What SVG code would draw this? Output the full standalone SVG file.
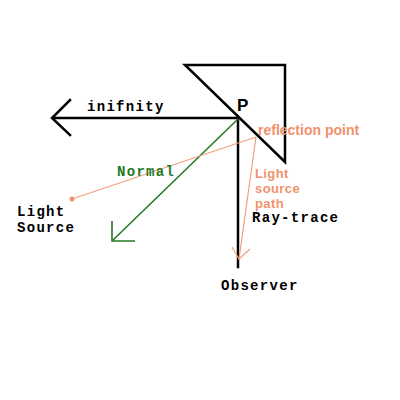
<svg xmlns="http://www.w3.org/2000/svg" width="400" height="400" viewBox="0 0 400 400">
<style>
.mono{font-family:"Liberation Mono","DejaVu Sans Mono",monospace;font-size:14px;letter-spacing:1.3px;font-weight:bold;fill:#000}
.orange{font-family:"Liberation Sans",Arial,sans-serif;font-size:14px;font-weight:bold;fill:#f0926c}
.orange.sm{font-size:13px;letter-spacing:0.4px}
.blk{stroke:#000;stroke-width:2.5;fill:none;stroke-linecap:square}
.grn{stroke:#267a26;stroke-width:1.6;fill:none}
.org{stroke:#f0a07e;stroke-width:1.2;fill:none}
</style>
<rect width="400" height="400" fill="#fff"/>
<g id="mirror">
<polygon points="185,65 285,65 285,162" class="blk" stroke-linejoin="miter"/>
</g>
<g id="connectors">
<line x1="238" y1="118" x2="53" y2="118" class="blk"/>
<polyline points="70,100 52,118 70,135" class="blk" stroke-linecap="butt"/>
<line x1="238" y1="118" x2="238" y2="267" class="blk" stroke-linecap="butt"/>
<line x1="238" y1="119" x2="112" y2="241" class="grn"/>
<polyline points="112,221 112,241 135,241" class="grn"/>
<line x1="72" y1="199" x2="256" y2="137" class="org"/>
<line x1="256" y1="137" x2="239" y2="259" class="org"/>
<polyline points="232,247 239,259 250,249" class="org"/>
</g>
<g id="p"><text x="237" y="111" font-family="Liberation Sans,Arial,sans-serif" font-size="17" font-weight="bold">P</text></g>
<g id="infinity"><text class="mono" x="87" y="111">inifnity</text></g>
<g id="normal"><text class="mono" x="117" y="176" style="fill:#267a26">Normal</text></g>
<g id="light-source">
<circle cx="72" cy="199" r="2.5" fill="#f0926c"/>
<text class="mono" x="17" y="216">Light</text>
<text class="mono" x="17" y="232">Source</text>
</g>
<g id="reflection-point"><text class="orange" x="258" y="135">reflection point</text></g>
<g id="light-path">
<text class="orange sm" x="255" y="178">Light</text>
<text class="orange sm" x="255" y="193">source</text>
<text class="orange sm" x="255" y="208">path</text>
</g>
<g id="ray-trace"><text class="mono" x="252" y="222">Ray-trace</text></g>
<g id="observer"><text class="mono" x="221" y="290">Observer</text></g>
</svg>
